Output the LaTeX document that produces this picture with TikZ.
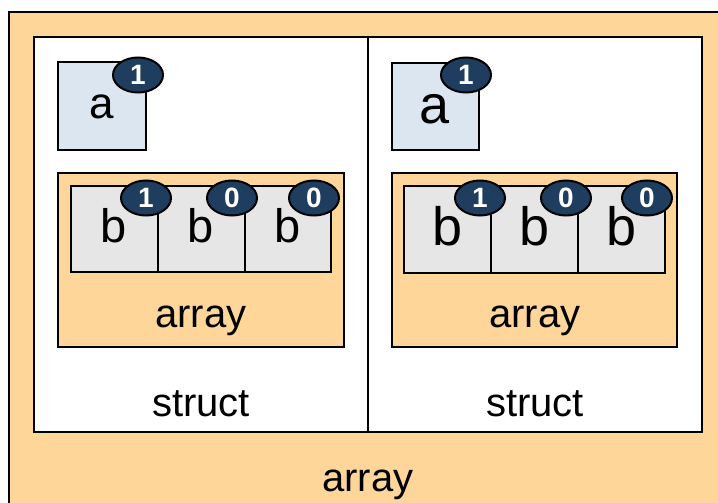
\documentclass[tikz,border=0pt]{standalone}
\usepackage{fontspec}
\setmainfont{Liberation Sans}
\usetikzlibrary{shapes.geometric}
\definecolor{orangefill}{RGB}{255,214,154}
\definecolor{bluefill}{RGB}{220,230,240}
\definecolor{cellfill}{RGB}{230,230,230}
\definecolor{navy}{RGB}{31,61,94}
\tikzset{
  box/.style={draw=black, line width=2pt},
  lbl/.style={anchor=base, inner sep=0pt, font=\fontsize{40}{48}\selectfont},
  badge/.style={ellipse, draw=black, line width=2pt, fill=navy, text=white,
    minimum width=50pt, minimum height=35pt, inner sep=0pt,
    font=\fontsize{28}{30}\selectfont\bfseries},
}
\begin{document}
\begin{tikzpicture}[x=1pt,y=-1pt]
\useasboundingbox (0,0) rectangle (718,503);
\clip (0,0) rectangle (718,503);
% outer array
\draw[box, fill=orangefill] (9,12) rectangle (740,530);
% structs
\draw[box, fill=white] (34,37) rectangle (368,432);
\draw[box, fill=white] (368,37) rectangle (702,432);
% left struct
\draw[box, fill=bluefill] (58,62) rectangle (146,150);
\draw[box, fill=orangefill] (58,173) rectangle (344,347);
\draw[box, fill=cellfill] (71,186) rectangle (158,272);
\draw[box, fill=cellfill] (158,186) rectangle (245,272);
\draw[box, fill=cellfill] (245,186) rectangle (331,272);
% right struct
\draw[box, fill=bluefill] (392,63) rectangle (479,150);
\draw[box, fill=orangefill] (392,173) rectangle (677,347);
\draw[box, fill=cellfill] (404,186) rectangle (491,273);
\draw[box, fill=cellfill] (491,186) rectangle (578,273);
\draw[box, fill=cellfill] (578,186) rectangle (665,273);
% labels left
\node[lbl, font=\fontsize{44}{48}\selectfont] (la) at (102,118) {a};
\node[lbl, font=\fontsize{47}{50}\selectfont] (lb1) at (114,242) {b};
\node[lbl, font=\fontsize{47}{50}\selectfont] (lb2) at (201,242) {b};
\node[lbl, font=\fontsize{47}{50}\selectfont] (lb3) at (288,242) {b};
\node[lbl] (larr) at (201,327) {array};
\node[lbl] (lst) at (201,416) {struct};
% labels right
\node[lbl, font=\fontsize{54}{60}\selectfont] (ra) at (435,123) {a};
\node[lbl, font=\fontsize{54}{60}\selectfont] (rb1) at (448,245) {b};
\node[lbl, font=\fontsize{54}{60}\selectfont] (rb2) at (535,245) {b};
\node[lbl, font=\fontsize{54}{60}\selectfont] (rb3) at (622,245) {b};
\node[lbl] (rarr) at (535,327) {array};
\node[lbl] (rst) at (535,416) {struct};
% outer label
\node[lbl] (oarr) at (368,491) {array};
% badges
\node[badge] (bla) at (138,75) {1};
\node[badge] (bl1) at (146,198) {1};
\node[badge] (bl2) at (232,198) {0};
\node[badge] (bl3) at (314,198) {0};
\node[badge] (bra) at (466,75) {1};
\node[badge] (br1) at (480,198) {1};
\node[badge] (br2) at (566,198) {0};
\node[badge] (br3) at (647,198) {0};
\end{tikzpicture}
\end{document}
